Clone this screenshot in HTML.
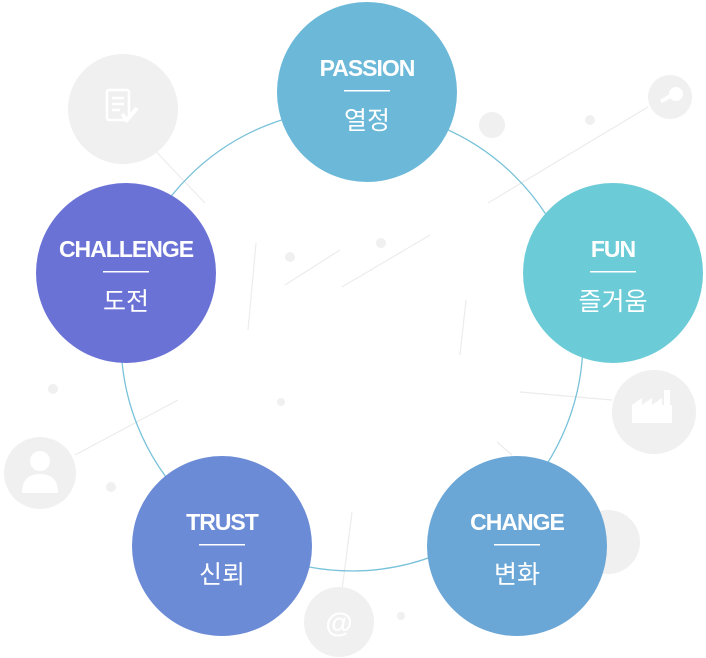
<!DOCTYPE html>
<html><head><meta charset="utf-8"><style>
html,body{margin:0;padding:0;background:#fff;width:706px;height:658px;overflow:hidden}
svg{display:block}
.en{font-family:"Liberation Sans",sans-serif;font-weight:bold;font-size:23px;fill:#fff;letter-spacing:-1px}
.ko{font-family:"Liberation Sans","Noto Sans CJK KR",sans-serif;font-size:25px;fill:#fff}
</style></head><body>
<svg width="706" height="658" viewBox="0 0 706 658">
<g stroke="#ececec" stroke-width="1.2" fill="none">
<line x1="145" y1="140" x2="205" y2="203"/>
<line x1="488" y1="203" x2="648" y2="107"/>
<line x1="285" y1="285" x2="340" y2="250"/>
<line x1="342" y1="287" x2="430" y2="235"/>
<line x1="256" y1="243" x2="248" y2="330"/>
<line x1="466" y1="300" x2="460" y2="355"/>
<line x1="520" y1="392" x2="612" y2="400"/>
<line x1="75" y1="455" x2="178" y2="400"/>
<line x1="497" y1="442" x2="512" y2="455"/>
<line x1="352" y1="512" x2="342" y2="590"/>
</g>
<g fill="#f0f0f0">
<circle cx="123" cy="109" r="55"/>
<circle cx="670" cy="97" r="22"/>
<circle cx="492" cy="125" r="13"/>
<circle cx="654" cy="412" r="42"/>
<circle cx="40" cy="473" r="36"/>
<circle cx="339" cy="622" r="35"/>
<circle cx="608" cy="542" r="32"/>
<circle cx="590" cy="120" r="5"/>
<circle cx="381" cy="243" r="5"/>
<circle cx="290" cy="257" r="5"/>
<circle cx="53" cy="389" r="5"/>
<circle cx="281" cy="402" r="4"/>
<circle cx="111" cy="487" r="5"/>
<circle cx="401" cy="616" r="4"/>
</g>
<g fill="none" stroke="#fff" stroke-width="2.5">
<rect x="107" y="90" width="22" height="30" rx="2"/>
<path d="M112 98h12M112 104h12M112 110h8"/>
<path d="M122 114l5 6 10-12" stroke-width="4"/>
</g>
<g fill="#fff">
<circle cx="676" cy="94" r="7"/><rect x="660" y="96" width="14" height="4" transform="rotate(-30 667 98)"/>
<rect x="632" y="405" width="40" height="18"/><polygon points="632,405 642,398 642,405 652,398 652,405 662,398 662,405"/><rect x="664" y="390" width="6" height="16"/>
<circle cx="40" cy="461" r="10"/><path d="M22 493 Q22 474 40 474 Q58 474 58 493Z"/>
<text x="339" y="632" font-family="Liberation Sans,sans-serif" font-weight="bold" font-size="28" text-anchor="middle">@</text>
</g>
<circle cx="352" cy="340" r="231" fill="none" stroke="#79c2da" stroke-width="1.3"/>
<g>
<circle cx="367" cy="92" r="90" fill="#6bb8d8"/>
<circle cx="613" cy="273" r="90" fill="#6bcbd7"/>
<circle cx="517" cy="546" r="90" fill="#6aa6d6"/>
<circle cx="222" cy="546" r="90" fill="#6b8bd6"/>
<circle cx="126" cy="273" r="90" fill="#6b72d6"/>
</g>
<g text-anchor="middle">
<text class="en" x="367" y="76">PASSION</text><rect x="344" y="90" width="46" height="1.5" fill="#fff"/><text class="ko" x="367" y="129">열정</text>
<text class="en" x="613" y="257">FUN</text><rect x="590" y="271" width="46" height="1.5" fill="#fff"/><text class="ko" x="613" y="310">즐거움</text>
<text class="en" x="517" y="530">CHANGE</text><rect x="494" y="544" width="46" height="1.5" fill="#fff"/><text class="ko" x="517" y="583">변화</text>
<text class="en" x="222" y="530">TRUST</text><rect x="199" y="544" width="46" height="1.5" fill="#fff"/><text class="ko" x="222" y="583">신뢰</text>
<text class="en" x="126" y="257">CHALLENGE</text><rect x="103" y="271" width="46" height="1.5" fill="#fff"/><text class="ko" x="126" y="310">도전</text>
</g>
</svg>
</body></html>
